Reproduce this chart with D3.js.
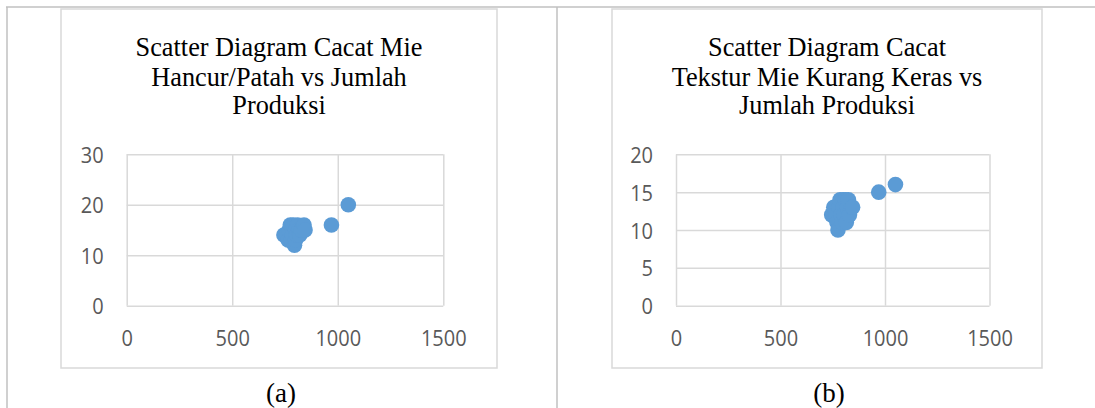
<!DOCTYPE html>
<html>
<head>
<meta charset="utf-8">
<script src="https://cdn.jsdelivr.net/npm/d3@7"></script>
<style>
  html, body { margin: 0; padding: 0; background: #ffffff; }
  svg { display: block; }
</style>
</head>
<body>
<svg id="fig" width="1095" height="408"></svg>
<script>
// ---------- data ----------
const production = [745, 755, 765, 770, 775, 780, 785, 790, 795, 800, 800, 805, 810, 815, 820, 825, 830, 840, 845, 970, 1050];
const defectHancur = [14, 14, 13, 15, 16, 13, 14, 16, 12, 15, 13, 14, 16, 15, 14, 15, 15, 16, 15, 16, 20];
const defectTekstur = [12, 13, 12, 11, 10, 13, 14, 12, 11, 14, 13, 12, 14, 11, 13, 14, 12, 13, 13, 15, 16];
const xTicks = [0, 500, 1000, 1500];
const yTicksA = [0, 10, 20, 30];
const yTicksB = [0, 5, 10, 15, 20];
const titleA = ["Scatter Diagram Cacat Mie", "Hancur/Patah vs Jumlah", "Produksi"];
const titleB = ["Scatter Diagram Cacat", "Tekstur Mie Kurang Keras vs", "Jumlah Produksi"];
const captions = ["(a)", "(b)"];

// ---------- drawing ----------
const svg = d3.select("#fig");
const GRID = "#d9d9d9";
const LABEL = "#595959";
const DOT = "#5b9bd5";
const TICK_FONT = "'Open Sans', 'Liberation Sans', sans-serif";
const SERIF = "'Liberation Serif', 'Times New Roman', serif";

// outer table lines
svg.append("line").attr("x1", 6).attr("x2", 1095).attr("y1", 7).attr("y2", 7)
  .attr("stroke", "#c0c0c0").attr("stroke-width", 1.5);
svg.append("line").attr("x1", 7).attr("x2", 7).attr("y1", 7).attr("y2", 408)
  .attr("stroke", "#c0c0c0").attr("stroke-width", 1.5);
svg.append("line").attr("x1", 557).attr("x2", 557).attr("y1", 7).attr("y2", 408)
  .attr("stroke", "#c0c0c0").attr("stroke-width", 1.5);

function stretchText(sel, dx, dy, k) {
  sel.attr("x", 0).attr("y", 0).attr("dy", null)
     .attr("transform", `translate(${dx},${dy}) scale(1,${k})`);
}

function drawChart(cfg) {
  const g = svg.append("g");
  // chart box
  g.append("rect")
    .attr("x", cfg.box[0]).attr("y", cfg.box[1])
    .attr("width", cfg.box[2] - cfg.box[0]).attr("height", cfg.box[3] - cfg.box[1])
    .attr("fill", "#fff").attr("stroke", GRID).attr("stroke-width", 1.5);

  const cx = (cfg.box[0] + cfg.box[2]) / 2;

  // title
  const tBase = [56, 85.7, 114.3];
  cfg.title.forEach((t, i) => {
    g.append("text").text(t)
      .attr("text-anchor", "middle")
      .attr("font-family", SERIF).attr("font-size", 26.3).attr("fill", "#000")
      .attr("transform", `translate(${cx},${tBase[i]}) scale(1,1.05)`);
  });

  const x = d3.scaleLinear().domain([0, 1500]).range([cfg.plot[0], cfg.plot[1]]);
  const y = d3.scaleLinear().domain(cfg.yDomain).range([cfg.plot[3], cfg.plot[2]]);
  const h = cfg.plot[3] - cfg.plot[2];
  const w = cfg.plot[1] - cfg.plot[0];

  // vertical gridlines
  const gx = g.append("g").attr("transform", `translate(0,${cfg.plot[3]})`)
    .call(d3.axisBottom(x).tickValues(xTicks).tickSize(-h).tickFormat(""));
  gx.select(".domain").remove();
  gx.selectAll("line").attr("stroke", GRID).attr("stroke-width", 1.5);

  // horizontal gridlines
  const gy = g.append("g").attr("transform", `translate(${cfg.plot[0]},0)`)
    .call(d3.axisLeft(y).tickValues(cfg.yTicks).tickSize(-w).tickFormat(""));
  gy.select(".domain").remove();
  gy.selectAll("line").attr("stroke", GRID).attr("stroke-width", 1.5);

  // x labels
  const lx = g.append("g").attr("transform", `translate(0,${cfg.plot[3]})`)
    .call(d3.axisBottom(x).tickValues(xTicks).tickSize(0).tickFormat(d3.format("d")));
  lx.select(".domain").remove();
  lx.selectAll("text").attr("font-family", TICK_FONT).attr("font-size", 20)
    .attr("fill", LABEL).attr("text-anchor", "middle")
    .call(stretchText, 0, 40, 1.12);

  // y labels
  const ly = g.append("g").attr("transform", `translate(${cfg.plot[0]},0)`)
    .call(d3.axisLeft(y).tickValues(cfg.yTicks).tickSize(0).tickFormat(d3.format("d")));
  ly.select(".domain").remove();
  ly.selectAll("text").attr("font-family", TICK_FONT).attr("font-size", 20)
    .attr("fill", LABEL).attr("text-anchor", "end")
    .call(stretchText, -23, 8, 1.12);

  // points
  g.append("g").selectAll("circle")
    .data(production.map((p, i) => [p, cfg.values[i]]))
    .join("circle")
    .attr("cx", d => x(d[0])).attr("cy", d => y(d[1]))
    .attr("r", 7.8).attr("fill", DOT);

  // caption
  g.append("text").text(cfg.caption)
    .attr("text-anchor", "middle")
    .attr("font-family", SERIF).attr("font-size", 27).attr("fill", "#000")
    .attr("x", cx + 2).attr("y", 401.5);
}

drawChart({
  box: [61, 9, 497, 368],
  plot: [126.7, 443.3, 154.3, 305.7],
  yDomain: [0, 30], yTicks: yTicksA,
  title: titleA, values: defectHancur, caption: captions[0]
});
drawChart({
  box: [612, 9, 1042, 368],
  plot: [676, 989.5, 154.3, 305.7],
  yDomain: [0, 20], yTicks: yTicksB,
  title: titleB, values: defectTekstur, caption: captions[1]
});
</script>
</body>
</html>
